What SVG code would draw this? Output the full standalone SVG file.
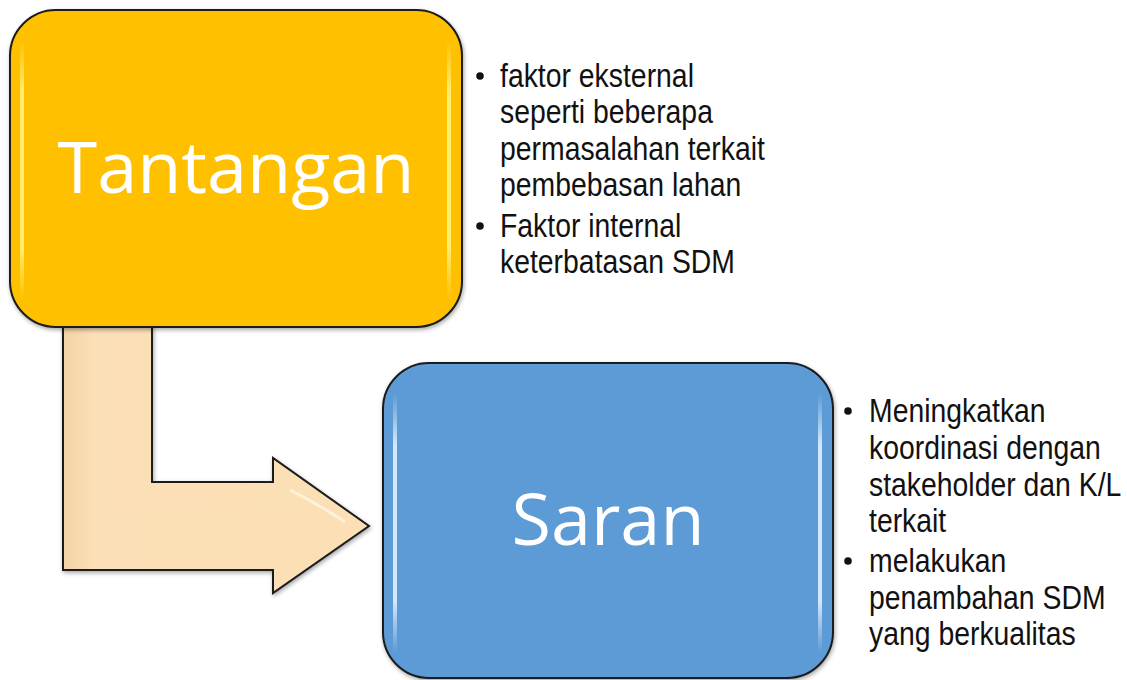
<svg xmlns="http://www.w3.org/2000/svg" width="1127" height="680" viewBox="0 0 1127 680">
<style>
.box{stroke:#1a1a1a;stroke-width:2}
.title{font-family:"Open Sans","Noto Sans",sans-serif;font-size:72px;fill:#ffffff;text-anchor:middle}
.bul{font-family:"Liberation Sans",Arial,sans-serif;font-size:33px;fill:#111111}
.dot{fill:#111111}
.hl{fill:none;stroke-width:3;stroke-linecap:round}
</style>
<defs>
<filter id="sh" x="-10%" y="-10%" width="120%" height="120%">
<feGaussianBlur in="SourceAlpha" stdDeviation="2"/>
<feOffset dx="1" dy="2"/>
<feComponentTransfer><feFuncA type="linear" slope="0.35"/></feComponentTransfer>
<feMerge><feMergeNode/><feMergeNode in="SourceGraphic"/></feMerge>
</filter>
<linearGradient id="arrowG" x1="0" y1="0" x2="1" y2="0">
<stop offset="0" stop-color="#f3d3a6"/>
<stop offset="0.1" stop-color="#fbdfb6"/>
<stop offset="1" stop-color="#fcdfb4"/>
</linearGradient>
<linearGradient id="hlY" x1="0" y1="0" x2="0" y2="1">
<stop offset="0" stop-color="#fff27a" stop-opacity="0"/>
<stop offset="0.2" stop-color="#fff27a" stop-opacity="0.9"/>
<stop offset="0.8" stop-color="#fff27a" stop-opacity="0.9"/>
<stop offset="1" stop-color="#fff27a" stop-opacity="0"/>
</linearGradient>
<linearGradient id="hlB" x1="0" y1="0" x2="0" y2="1">
<stop offset="0" stop-color="#dff0ff" stop-opacity="0"/>
<stop offset="0.2" stop-color="#dff0ff" stop-opacity="0.9"/>
<stop offset="0.8" stop-color="#dff0ff" stop-opacity="0.9"/>
<stop offset="1" stop-color="#dff0ff" stop-opacity="0"/>
</linearGradient>
</defs>

<g id="connectors">
<path d="M63,325 L152,325 L152,482 L273,482 L273,458 L369,526 L273,593 L273,570 L63,570 Z" fill="url(#arrowG)" stroke="#1a1a1a" stroke-width="2" stroke-linejoin="miter" filter="url(#sh)"/>
<path d="M290,490 Q320,505 345,522" fill="none" stroke="#fff6e6" stroke-width="3" opacity="0.8"/>
</g>

<g id="node-tantangan">
<rect class="box" x="10" y="10" width="452" height="317" rx="46" ry="46" fill="#FFC000" filter="url(#sh)"/>
<rect x="20" y="40" width="4" height="260" fill="url(#hlY)"/>
<rect x="447" y="40" width="4" height="260" fill="url(#hlY)"/>
<text class="title" x="236" y="193">Tantangan</text>
</g>

<g id="node-saran">
<rect class="box" x="383" y="363" width="450" height="315" rx="46" ry="46" fill="#5B9BD5" filter="url(#sh)"/>
<rect x="393" y="393" width="4" height="260" fill="url(#hlB)"/>
<rect x="818" y="393" width="4" height="260" fill="url(#hlB)"/>
<text class="title" x="608" y="545">Saran</text>
</g>

<g id="list-tantangan">
<circle class="dot" cx="480" cy="76" r="3.8"/>
<circle class="dot" cx="480" cy="226" r="3.8"/>
<g transform="translate(500,0) scale(0.86,1)">
<text class="bul" x="0" y="87">faktor eksternal</text>
<text class="bul" x="0" y="123">seperti beberapa</text>
<text class="bul" x="0" y="160">permasalahan terkait</text>
<text class="bul" x="0" y="196">pembebasan lahan</text>
<text class="bul" x="0" y="237">Faktor internal</text>
<text class="bul" x="0" y="273">keterbatasan SDM</text>
</g>
</g>

<g id="list-saran">
<circle class="dot" cx="848" cy="411" r="3.8"/>
<circle class="dot" cx="848" cy="561" r="3.8"/>
<g transform="translate(869,0) scale(0.86,1)">
<text class="bul" x="0" y="422">Meningkatkan</text>
<text class="bul" x="0" y="459">koordinasi dengan</text>
<text class="bul" x="0" y="496">stakeholder dan K/L</text>
<text class="bul" x="0" y="532">terkait</text>
<text class="bul" x="0" y="572">melakukan</text>
<text class="bul" x="0" y="609">penambahan SDM</text>
<text class="bul" x="0" y="645">yang berkualitas</text>
</g>
</g>
</svg>
